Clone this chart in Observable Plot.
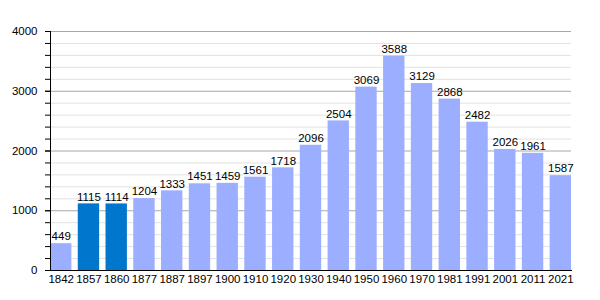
<!DOCTYPE html>
<html><head><meta charset="utf-8">
<script src="https://cdn.jsdelivr.net/npm/d3@7"></script>
<script src="https://cdn.jsdelivr.net/npm/@observablehq/plot@0.6"></script>
<style>body{margin:0;background:#fff}svg{display:block}</style>
</head><body><div id="chart"></div>
<script>
const years = ["1842","1857","1860","1877","1887","1897","1900","1910","1920","1930","1940","1950","1960","1970","1981","1991","2001","2011","2021"];
const population = [449,1115,1114,1204,1333,1451,1459,1561,1718,2096,2504,3069,3588,3129,2868,2482,2026,1961,1587];
const highlighted = ["1857","1860"];
const majorTicks = [0,1000,2000,3000,4000];
const minorTicks = d3.range(0, 4001, 200);

const data = years.map((y,i)=>({year:y, value:population[i], hi: highlighted.includes(y)}));

const chart = Plot.plot({
  width: 600, height: 300,
  marginLeft: 50, marginRight: 29, marginTop: 31, marginBottom: 30,
  style: {fontFamily: "Liberation Sans, Arial, sans-serif", fontSize: "11.5px", color: "#000", background: "#fff"},
  x: {domain: years, paddingInner: 0.23, paddingOuter: 0, round: false, label: null},
  y: {domain: [0,4000], label: null},
  marks: [
    Plot.ruleY(minorTicks.filter(d=>d%1000!==0), {stroke: "#e2e2e2", strokeWidth: 1}),
    Plot.ruleY(majorTicks.filter(d=>d>0), {stroke: "#a8a8a8", strokeWidth: 1}),
    Plot.barY(data, {x: "year", y: "value", fill: d => d.hi ? "#0077cc" : "#9caeff"}),
    Plot.text(data, {x: "year", y: "value", text: d => String(d.value), dy: -7, fill: "#000", fontSize: 11.5}),
    Plot.axisY({ticks: minorTicks, tickSize: 5, tickFormat: () => "", tickPadding: 0}),
    Plot.axisY({ticks: majorTicks, tickSize: 5, tickPadding: 8, tickFormat: d => String(d), fontSize: 11.5}),
    Plot.axisX({tickSize: 0, tickPadding: 4, fontSize: 11.5}),
    Plot.frame({anchor: "left", stroke: "#000"}),
    Plot.frame({anchor: "bottom", stroke: "#000"})
  ]
});
document.getElementById("chart").append(chart);
</script></body></html>
